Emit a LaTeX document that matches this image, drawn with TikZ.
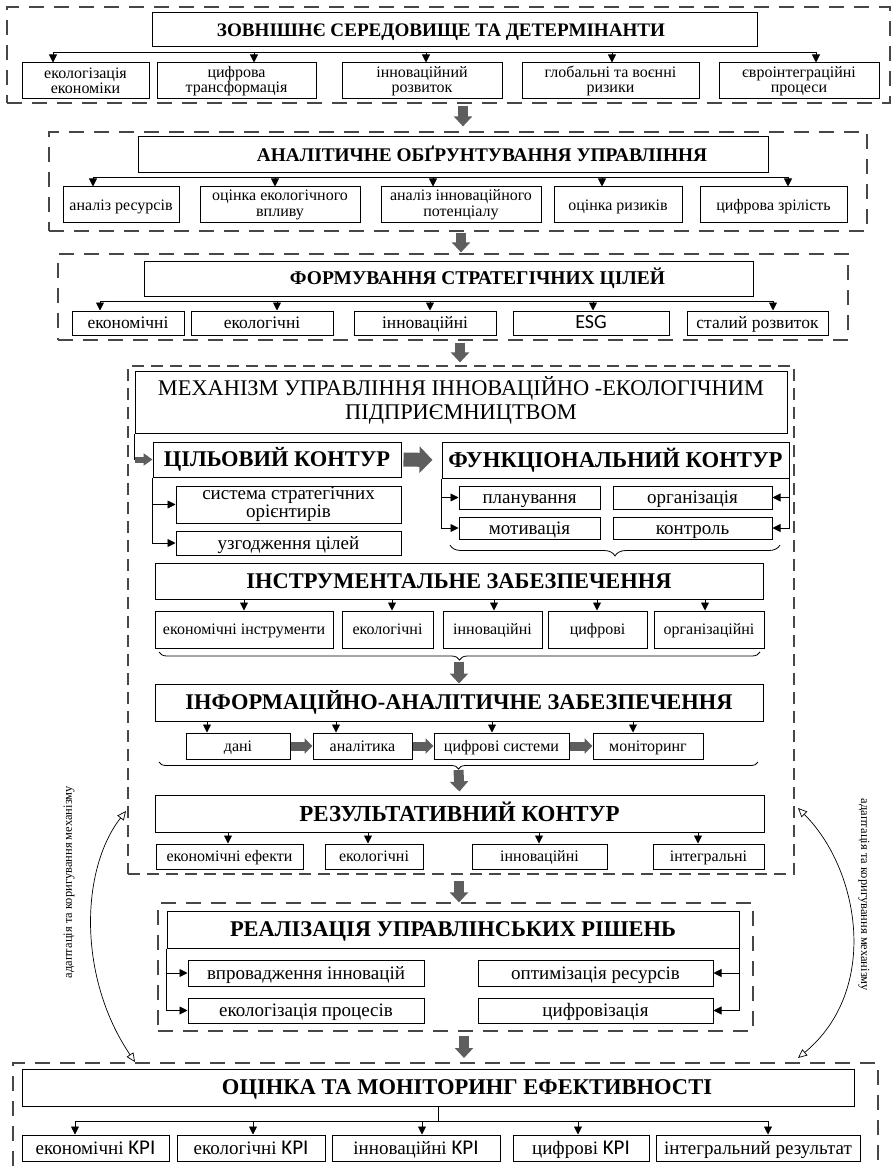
\documentclass[tikz,border=0pt]{standalone}
\usepackage{fontspec}
\setmainfont{Liberation Serif}
\newfontfamily\kpif{Carlito}
\usepackage{graphicx}
\usetikzlibrary{arrows.meta,decorations.pathreplacing,calc}
\definecolor{gA}{HTML}{5E5E5E}
\definecolor{dG}{HTML}{474747}
\newcommand\capttl[2]{\resizebox{#1}{!}{\bfseries\smash{#2}\rule{0pt}{0.662em}}}
\begin{document}
\begin{tikzpicture}[x=1pt,y=-1pt,
  bb/.style n args={4}{minimum width={(#3-#1)*1pt},minimum height={(#4-#2)*1pt},at={({(#1+#3)/2},{(#2+#4)/2})}},
  bx/.style={draw=black,line width=1pt,inner sep=0pt,align=center,fill=white},
  oneA/.style={text height=14.4pt,text depth=3.84pt},
  oneB/.style={text height=15.75pt,text depth=4.2pt},
  oneC/.style={text height=17.1pt,text depth=4.56pt},
  tt/.style={inner sep=0pt},
  dbx/.style={draw=dG,line width=1.2pt,dash pattern=on 15pt off 10pt},
  dbs/.style={draw=dG,line width=1.2pt,dash pattern=on 12pt off 7pt},
  ln/.style={draw=black,line width=0.9pt},
  arr/.style={ln,-{Triangle[length=8pt,width=8pt]}},
  garr/.style={draw=gA,line width=10pt,-{Triangle[length=10pt,width=18pt]}},
  garrG/.style={draw=gA,line width=14pt,-{Triangle[length=13pt,width=26pt]}},
  garrS/.style={draw=gA,line width=6pt,-{Triangle[length=9pt,width=12pt]}},
  garrI/.style={draw=gA,line width=9pt,-{Triangle[length=8pt,width=15pt]}},
  brc/.style={draw=black,line width=0.8pt,decorate,decoration={brace,mirror,amplitude=#1}},
  side/.style={draw=black,line width=0.7pt,{Triangle[open,length=9pt,width=8pt]}-{Triangle[open,length=9pt,width=8pt]}},
  f1/.style={font=\fontsize{16}{14.5}\selectfont},
  f2/.style={font=\fontsize{16}{16}\selectfont},
  f3/.style={font=\fontsize{17.5}{18}\selectfont,oneB},
  f4/.style={font=\fontsize{19}{18}\selectfont},
  f4b/.style={font=\fontsize{16}{16}\selectfont,oneA},
  f5/.style={font=\fontsize{19}{19}\selectfont,oneC},
  sl/.style={font=\fontsize{12.5}{12.5}\selectfont,inner sep=0pt}
]
\useasboundingbox (0,0) rectangle (895,1166);

% ---------- Section 1 ----------
\node[dbx,bb={7}{7}{890}{103}] (d1) {};
\node[bx,bb={152}{13}{757}{47}] (t1) {};
\node[tt] (t1l) at (441,30) {\capttl{448pt}{ЗОВНІШНЄ СЕРЕДОВИЩЕ ТА ДЕТЕРМІНАНТИ}};
\node[bx,f1,bb={22}{63}{149}{99}] (a1) {екологізація\\економіки};
\node[bx,f1,bb={157}{63}{316}{99}] (a2) {цифрова\\трансформація};
\node[bx,f1,bb={342}{63}{502}{99}] (a3) {інноваційний\\розвиток};
\node[bx,f1,bb={522}{63}{699}{99}] (a4) {глобальні та воєнні\\ризики};
\node[bx,f1,bb={719}{63}{879}{99}] (a5) {євроінтеграційні\\процеси};
\foreach \x [count=\i] in {53,254,426,612,816} {
  \coordinate (s1p\i) at (\x,52);
  \draw[arr] (s1p\i) -- (s1p\i |- a\i.north);
}
\draw[ln] (s1p1) -- (s1p5);

% ---------- Section 2 ----------
\node[dbx,bb={49}{132}{867}{231}] (d2) {};
\node[bx,bb={138}{137}{768}{173}] (t2) {};
\node[tt] (t2l) at (482,155) {\capttl{450pt}{АНАЛІТИЧНЕ ОБҐРУНТУВАННЯ УПРАВЛІННЯ}};
\node[bx,f2,oneA,bb={63}{187}{179}{223}] (b1) {аналіз ресурсів};
\node[bx,f2,bb={200}{187}{360}{223}] (b2) {оцінка екологічного\\впливу};
\node[bx,f2,bb={381}{187}{541}{223}] (b3) {аналіз інноваційного\\потенціалу};
\node[bx,f2,oneA,bb={554}{187}{682}{223}] (b4) {оцінка ризиків};
\node[bx,f2,oneA,bb={700}{187}{847}{223}] (b5) {цифрова зрілість};
\foreach \x [count=\i] in {93,275,433,602,788} {
  \coordinate (s2p\i) at (\x,177);
  \draw[arr] (s2p\i) -- (s2p\i |- b\i.north);
}
\draw[ln] (s2p1) -- (s2p5);

% ---------- Section 3 ----------
\node[dbx,bb={58}{254}{848}{340}] (d3) {};
\node[bx,bb={144}{261}{753}{296}] (t3) {};
\node[tt] (t3l) at (477.5,278.5) {\capttl{375pt}{ФОРМУВАННЯ СТРАТЕГІЧНИХ ЦІЛЕЙ}};
\node[bx,f3,bb={72}{311}{184}{335}] (c1) {економічні};
\node[bx,f3,bb={191}{311}{333}{335}] (c2) {екологічні};
\node[bx,f3,bb={354}{311}{496}{335}] (c3) {інноваційні};
\node[bx,text height=14pt,text depth=4pt,bb={513}{311}{669}{335},font=\kpif\fontsize{20}{20}\selectfont] (c4) {ESG};
\node[bx,f3,bb={687}{311}{828}{335}] (c5) {сталий розвиток};
\foreach \x [count=\i] in {100,277,430,593,773} {
  \coordinate (s3p\i) at (\x,301);
  \draw[arr] (s3p\i) -- (s3p\i |- c\i.north);
}
\draw[ln] (s3p1) -- (s3p5);

% ---------- Section 4: mechanism ----------
\node[dbs,bb={128}{366}{794}{874}] (d4) {};
\node[bx,bb={135}{371}{787}{433},font=\fontsize{10}{10.7}\selectfont] (mech)
  {\resizebox{606pt}{!}{\begin{tabular}{@{}c@{}}МЕХАНІЗМ УПРАВЛІННЯ ІННОВАЦІЙНО -ЕКОЛОГІЧНИМ\\ПІДПРИЄМНИЦТВОМ\end{tabular}}};
\node[bx,bb={153}{442}{401}{477}] (goal) {\capttl{226pt}{ЦІЛЬОВИЙ КОНТУР}};
\node[bx,bb={442}{442}{789}{478}] (func) {\capttl{334pt}{ФУНКЦІОНАЛЬНИЙ КОНТУР}};
\node[bx,f4,bb={176}{486}{401}{523}] (g1) {система стратегічних\\орієнтирів};
\node[bx,f4,oneC,bb={176}{531}{401}{555}] (g2) {узгодження цілей};
\node[bx,f4,oneC,bb={459}{486}{600}{509}] (h1) {планування};
\node[bx,f4,oneC,bb={459}{517}{600}{539}] (h2) {мотивація};
\node[bx,f4,oneC,bb={613}{486}{772}{509}] (h3) {організація};
\node[bx,f4,oneC,bb={613}{517}{772}{539}] (h4) {контроль};
\draw[ln] (mech.south west) -- (mech.south west |- goal.west);
\draw[garrS] (mech.south west |- goal.west) -- (goal.west);
\draw[garrG] ($(goal.east)+(2,0)$) -- ($(func.west)+(-9,0)$);
\draw[arr] (goal.south west) |- (g1.west);
\draw[arr] (goal.south west) |- (g2.west);
\draw[arr] (func.south west) |- (h1.west);
\draw[arr] (func.south west) |- (h2.west);
\draw[arr] (func.south east) |- (h3.east);
\draw[arr] (func.south east) |- (h4.east);
\draw[brc=11pt] (450,545) -- (780,545);

\node[bx,bb={155}{563}{763}{599}] (ins) {\capttl{425pt}{ІНСТРУМЕНТАЛЬНЕ ЗАБЕЗПЕЧЕННЯ}};
\node[bx,f4b,bb={155}{611}{333}{648}] (e1) {економічні інструменти};
\node[bx,f4b,bb={342}{611}{433}{648}] (e2) {екологічні};
\node[bx,f4b,bb={443}{611}{542}{648}] (e3) {інноваційні};
\node[bx,f4b,bb={548}{611}{647}{648}] (e4) {цифрові};
\node[bx,f4b,bb={654}{611}{764}{648}] (e5) {організаційні};
\foreach \x [count=\i] in {244,392,494,597,705} {
  \coordinate (s4p\i) at (\x,599);
  \draw[arr] (s4p\i) -- (s4p\i |- e\i.north);
}
\draw[brc=8pt] (159,652) -- (760,652);
\coordinate (br2) at (459,660);

\node[bx,bb={155}{684}{763}{721}] (inf) {\capttl{547pt}{ІНФОРМАЦІЙНО-АНАЛІТИЧНЕ ЗАБЕЗПЕЧЕННЯ}};
\node[bx,f4b,bb={186}{733}{290}{759}] (i1) {дані};
\node[bx,f4b,bb={313}{733}{412}{759}] (i2) {аналітика};
\node[bx,f4b,bb={434}{733}{569}{759}] (i3) {цифрові системи};
\node[bx,f4b,bb={593}{733}{703}{759}] (i4) {моніторинг};
\foreach \x [count=\i] in {207,336,492,633} {
  \coordinate (s5p\i) at (\x,721);
  \draw[arr] (s5p\i) -- (s5p\i |- i\i.north);
}
\draw[garrI] (i1.east) -- (i2.west);
\draw[garrI] (i2.east) -- (i3.west);
\draw[garrI] (i3.east) -- (i4.west);
\draw[brc=7pt] (159,762) -- (758,762);
\coordinate (br3) at (458.5,768);

\node[bx,bb={155}{795}{764}{832}] (res) {\capttl{320pt}{РЕЗУЛЬТАТИВНИЙ КОНТУР}};
\node[bx,f4b,bb={156}{844}{303}{869}] (r1) {економічні ефекти};
\node[bx,f4b,bb={325}{844}{423}{869}] (r2) {екологічні};
\node[bx,f4b,bb={472}{844}{607}{869}] (r3) {інноваційні};
\node[bx,f4b,bb={653}{844}{764}{869}] (r4) {інтегральні};
\foreach \x [count=\i] in {228,368,539,698} {
  \coordinate (s6p\i) at (\x,832);
  \draw[arr] (s6p\i) -- (s6p\i |- r\i.north);
}

% ---------- Section 5 ----------
\node[dbx,bb={158}{903}{753}{1031}] (d5) {};
\node[bx,bb={167}{911}{739}{948}] (real) {\capttl{446pt}{РЕАЛІЗАЦІЯ УПРАВЛІНСЬКИХ РІШЕНЬ}};
\node[bx,f5,bb={188}{960}{424}{986}] (m1) {впровадження інновацій};
\node[bx,f5,bb={188}{998}{424}{1023}] (m2) {екологізація процесів};
\node[bx,f5,bb={478}{960}{713}{986}] (m3) {оптимізація ресурсів};
\node[bx,f5,bb={478}{998}{713}{1023}] (m4) {цифровізація};
\draw[arr] (real.south west) |- (m1.west);
\draw[arr] (real.south west) |- (m2.west);
\draw[arr] (real.south east) |- (m3.east);
\draw[arr] (real.south east) |- (m4.east);

% ---------- Section 6 ----------
\coordinate (d6n) at (464,1063);
\draw[dbx] (13,1166) |- (878,1063) -- (878,1166);
\node[bx,bb={22}{1069}{854}{1106}] (ev) {};
\node[tt] (evl) at (467,1087.5) {\capttl{490pt}{ОЦІНКА ТА МОНІТОРИНГ ЕФЕКТИВНОСТІ}};
\node[bx,f5,bb={22}{1135}{169}{1161}] (k1) {економічні {\kpif\fontsize{21}{19}\selectfont KPI}};
\node[bx,f5,bb={177}{1135}{325}{1161}] (k2) {екологічні {\kpif\fontsize{21}{19}\selectfont KPI}};
\node[bx,f5,bb={332}{1135}{500}{1161}] (k3) {інноваційні {\kpif\fontsize{21}{19}\selectfont KPI}};
\node[bx,f5,bb={513}{1135}{649}{1161}] (k4) {цифрові {\kpif\fontsize{21}{19}\selectfont KPI}};
\node[bx,f5,bb={656}{1135}{860}{1161}] (k5) {інтегральний результат};
\coordinate (s7) at (438,1121);
\draw[ln] (ev.south -| s7) -- (s7);
\foreach \x [count=\i] in {75,253,422,578,768} {
  \coordinate (s7p\i) at (\x,1121);
  \draw[arr] (s7p\i) -- (s7p\i |- k\i.north);
}
\draw[ln] (s7p1) -- (s7p5);

% ---------- gray flow arrows between sections ----------
\draw[garr] ($(d1.south)+(14.5,2)$) -- ($(d2.north)+(5,-5)$);
\draw[garr] ($(d2.south)+(3,1)$) -- ($(d3.north)+(8,-1)$);
\draw[garr] ($(d3.south)+(7,2)$) -- ($(d4.north)+(-1,-3)$);
\draw[garr] ($(br2)+(0,2)$) -- (inf.north);
\draw[garr] ($(br3)+(0,2)$) -- ($(res.north)+(0,-3)$);
\draw[garr] ($(d4.south)+(-2,6)$) -- ($(d5.north)+(3.5,0)$);
\draw[garr] ($(d5.south)+(8.5,4)$) -- ($(d6n)+(0,-5)$);

% ---------- side feedback arrows ----------
\coordinate (lc1) at (126,811);
\coordinate (lc2) at (135,1062);
\draw[side] (lc1) .. controls (80,870) and (78,978) .. (lc2);
\coordinate (rc1) at (798,808);
\coordinate (rc2) at (798,1058);
\draw[side] (rc1) .. controls (860,870) and (880,990) .. (rc2);
\node[sl,rotate=90] (ltx) at (69,882) {адаптація та коригування механізму};
\node[sl,rotate=-90] (rtx) at (864,895) {адаптація та коригування механізму};
\end{tikzpicture}
\end{document}
